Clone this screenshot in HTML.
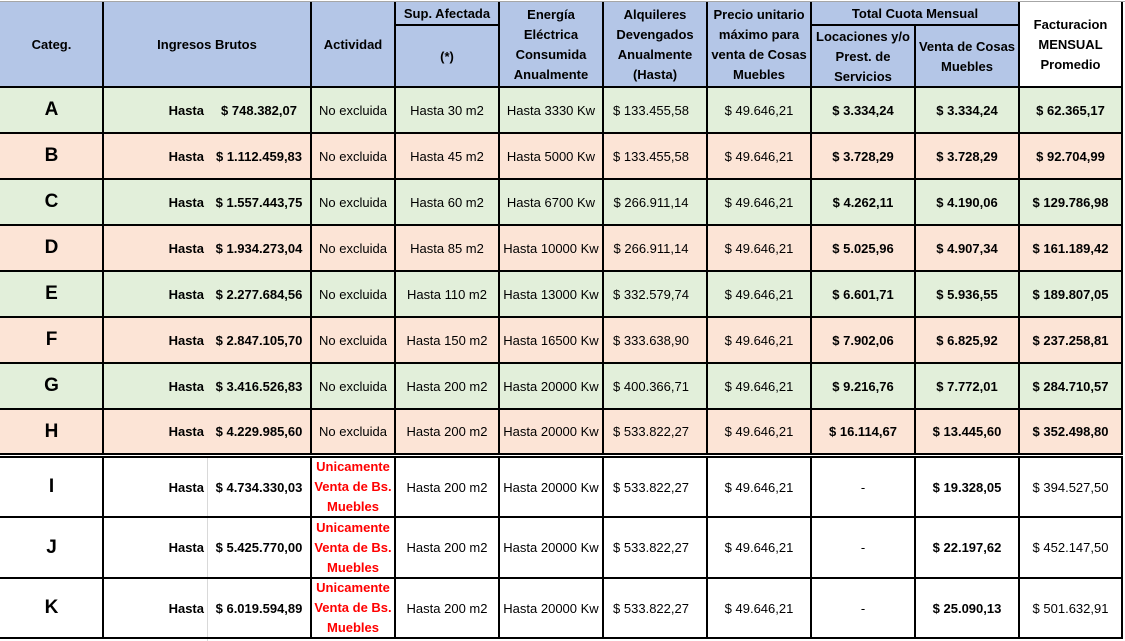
<!DOCTYPE html>
<html><head><meta charset="utf-8"><style>
*{margin:0;padding:0;box-sizing:border-box}
body{width:1125px;height:641px;background:#fff;overflow:hidden;font-family:"Liberation Sans",Arial,sans-serif;color:#000}
#w{position:relative;width:1125px;height:641px}
.f{position:absolute}
.c{position:absolute;display:flex;align-items:center;justify-content:center;text-align:center;white-space:nowrap}
.h{font-weight:bold;font-size:13px;line-height:20px}
.b{font-weight:bold;font-size:13px}
.r{font-size:13px}
.k{font-weight:bold;font-size:19px}
.e{justify-content:flex-end}
.red{color:#ff0000;font-weight:bold;font-size:13px;line-height:20px}
.v{position:absolute;background:#000;width:2px}
.hl{position:absolute;background:#000;height:2px}
.bl{background:#b4c6e7}.gr{background:#e2efda}.pe{background:#fce4d6}
</style></head><body><div id="w">
<!-- fills -->
<div class="f bl" style="left:0;top:2px;width:1019px;height:85px"></div>
<div class="f gr" style="left:0;top:87px;width:1122px;height:46px"></div>
<div class="f pe" style="left:0;top:133px;width:1122px;height:46px"></div>
<div class="f gr" style="left:0;top:179px;width:1122px;height:46px"></div>
<div class="f pe" style="left:0;top:225px;width:1122px;height:46px"></div>
<div class="f gr" style="left:0;top:271px;width:1122px;height:46px"></div>
<div class="f pe" style="left:0;top:317px;width:1122px;height:46px"></div>
<div class="f gr" style="left:0;top:363px;width:1122px;height:46px"></div>
<div class="f pe" style="left:0;top:409px;width:1122px;height:45px"></div>
<div class="f" style="left:0;top:1px;width:1125px;height:1px;background:#a6a6a6"></div>
<div class="f" style="left:207px;top:458px;width:1px;height:183px;background:#d9d9d9"></div>

<!-- header text -->
<div class="c h" style="left:0;top:2px;width:103px;height:85px">Categ.</div>
<div class="c h" style="left:103px;top:2px;width:208px;height:85px">Ingresos Brutos</div>
<div class="c h" style="left:311px;top:2px;width:84px;height:85px">Actividad</div>
<div class="c h" style="left:395px;top:2px;width:104px;height:23px">Sup. Afectada</div>
<div class="c h" style="left:395px;top:26px;width:104px;height:61px">(*)</div>
<div class="c h" style="left:499px;top:2px;width:104px;height:85px">Energía<br>Eléctrica<br>Consumida<br>Anualmente</div>
<div class="c h" style="left:603px;top:2px;width:104px;height:85px">Alquileres<br>Devengados<br>Anualmente<br>(Hasta)</div>
<div class="c h" style="left:707px;top:2px;width:104px;height:85px">Precio unitario<br>máximo para<br>venta de Cosas<br>Muebles</div>
<div class="c h" style="left:811px;top:2px;width:208px;height:23px">Total Cuota Mensual</div>
<div class="c h" style="left:811px;top:26px;width:104px;height:61px">Locaciones y/o<br>Prest. de<br>Servicios</div>
<div class="c h" style="left:915px;top:26px;width:104px;height:61px">Venta de Cosas<br>Muebles</div>
<div class="c h" style="left:1019px;top:2px;width:103px;height:85px">Facturacion<br>MENSUAL<br>Promedio</div>

<!-- Row A -->
<div class="c k" style="left:0;top:87px;width:103px;height:46px">A</div>
<div class="c b e" style="left:103px;top:87px;width:101px;height:46px">Hasta</div>
<div class="c b" style="left:207px;top:87px;width:104px;height:46px">$ 748.382,07</div>
<div class="c r" style="left:311px;top:87px;width:84px;height:46px">No excluida</div>
<div class="c r" style="left:395px;top:87px;width:104px;height:46px">Hasta 30 m2</div>
<div class="c r" style="left:499px;top:87px;width:104px;height:46px">Hasta 3330 Kw</div>
<div class="c r" style="left:603px;top:87px;width:96px;height:46px">$ 133.455,58</div>
<div class="c r" style="left:707px;top:87px;width:104px;height:46px">$ 49.646,21</div>
<div class="c b" style="left:811px;top:87px;width:104px;height:46px">$ 3.334,24</div>
<div class="c b" style="left:915px;top:87px;width:104px;height:46px">$ 3.334,24</div>
<div class="c b" style="left:1019px;top:87px;width:103px;height:46px">$ 62.365,17</div>

<!-- Row B -->
<div class="c k" style="left:0;top:133px;width:103px;height:46px">B</div>
<div class="c b e" style="left:103px;top:133px;width:101px;height:46px">Hasta</div>
<div class="c b" style="left:207px;top:133px;width:104px;height:46px">$ 1.112.459,83</div>
<div class="c r" style="left:311px;top:133px;width:84px;height:46px">No excluida</div>
<div class="c r" style="left:395px;top:133px;width:104px;height:46px">Hasta 45 m2</div>
<div class="c r" style="left:499px;top:133px;width:104px;height:46px">Hasta 5000 Kw</div>
<div class="c r" style="left:603px;top:133px;width:96px;height:46px">$ 133.455,58</div>
<div class="c r" style="left:707px;top:133px;width:104px;height:46px">$ 49.646,21</div>
<div class="c b" style="left:811px;top:133px;width:104px;height:46px">$ 3.728,29</div>
<div class="c b" style="left:915px;top:133px;width:104px;height:46px">$ 3.728,29</div>
<div class="c b" style="left:1019px;top:133px;width:103px;height:46px">$ 92.704,99</div>

<!-- Row C -->
<div class="c k" style="left:0;top:179px;width:103px;height:46px">C</div>
<div class="c b e" style="left:103px;top:179px;width:101px;height:46px">Hasta</div>
<div class="c b" style="left:207px;top:179px;width:104px;height:46px">$ 1.557.443,75</div>
<div class="c r" style="left:311px;top:179px;width:84px;height:46px">No excluida</div>
<div class="c r" style="left:395px;top:179px;width:104px;height:46px">Hasta 60 m2</div>
<div class="c r" style="left:499px;top:179px;width:104px;height:46px">Hasta 6700 Kw</div>
<div class="c r" style="left:603px;top:179px;width:96px;height:46px">$ 266.911,14</div>
<div class="c r" style="left:707px;top:179px;width:104px;height:46px">$ 49.646,21</div>
<div class="c b" style="left:811px;top:179px;width:104px;height:46px">$ 4.262,11</div>
<div class="c b" style="left:915px;top:179px;width:104px;height:46px">$ 4.190,06</div>
<div class="c b" style="left:1019px;top:179px;width:103px;height:46px">$ 129.786,98</div>

<!-- Row D -->
<div class="c k" style="left:0;top:225px;width:103px;height:46px">D</div>
<div class="c b e" style="left:103px;top:225px;width:101px;height:46px">Hasta</div>
<div class="c b" style="left:207px;top:225px;width:104px;height:46px">$ 1.934.273,04</div>
<div class="c r" style="left:311px;top:225px;width:84px;height:46px">No excluida</div>
<div class="c r" style="left:395px;top:225px;width:104px;height:46px">Hasta 85 m2</div>
<div class="c r" style="left:499px;top:225px;width:104px;height:46px">Hasta 10000 Kw</div>
<div class="c r" style="left:603px;top:225px;width:96px;height:46px">$ 266.911,14</div>
<div class="c r" style="left:707px;top:225px;width:104px;height:46px">$ 49.646,21</div>
<div class="c b" style="left:811px;top:225px;width:104px;height:46px">$ 5.025,96</div>
<div class="c b" style="left:915px;top:225px;width:104px;height:46px">$ 4.907,34</div>
<div class="c b" style="left:1019px;top:225px;width:103px;height:46px">$ 161.189,42</div>

<!-- Row E -->
<div class="c k" style="left:0;top:271px;width:103px;height:46px">E</div>
<div class="c b e" style="left:103px;top:271px;width:101px;height:46px">Hasta</div>
<div class="c b" style="left:207px;top:271px;width:104px;height:46px">$ 2.277.684,56</div>
<div class="c r" style="left:311px;top:271px;width:84px;height:46px">No excluida</div>
<div class="c r" style="left:395px;top:271px;width:104px;height:46px">Hasta 110 m2</div>
<div class="c r" style="left:499px;top:271px;width:104px;height:46px">Hasta 13000 Kw</div>
<div class="c r" style="left:603px;top:271px;width:96px;height:46px">$ 332.579,74</div>
<div class="c r" style="left:707px;top:271px;width:104px;height:46px">$ 49.646,21</div>
<div class="c b" style="left:811px;top:271px;width:104px;height:46px">$ 6.601,71</div>
<div class="c b" style="left:915px;top:271px;width:104px;height:46px">$ 5.936,55</div>
<div class="c b" style="left:1019px;top:271px;width:103px;height:46px">$ 189.807,05</div>

<!-- Row F -->
<div class="c k" style="left:0;top:317px;width:103px;height:46px">F</div>
<div class="c b e" style="left:103px;top:317px;width:101px;height:46px">Hasta</div>
<div class="c b" style="left:207px;top:317px;width:104px;height:46px">$ 2.847.105,70</div>
<div class="c r" style="left:311px;top:317px;width:84px;height:46px">No excluida</div>
<div class="c r" style="left:395px;top:317px;width:104px;height:46px">Hasta 150 m2</div>
<div class="c r" style="left:499px;top:317px;width:104px;height:46px">Hasta 16500 Kw</div>
<div class="c r" style="left:603px;top:317px;width:96px;height:46px">$ 333.638,90</div>
<div class="c r" style="left:707px;top:317px;width:104px;height:46px">$ 49.646,21</div>
<div class="c b" style="left:811px;top:317px;width:104px;height:46px">$ 7.902,06</div>
<div class="c b" style="left:915px;top:317px;width:104px;height:46px">$ 6.825,92</div>
<div class="c b" style="left:1019px;top:317px;width:103px;height:46px">$ 237.258,81</div>

<!-- Row G -->
<div class="c k" style="left:0;top:363px;width:103px;height:46px">G</div>
<div class="c b e" style="left:103px;top:363px;width:101px;height:46px">Hasta</div>
<div class="c b" style="left:207px;top:363px;width:104px;height:46px">$ 3.416.526,83</div>
<div class="c r" style="left:311px;top:363px;width:84px;height:46px">No excluida</div>
<div class="c r" style="left:395px;top:363px;width:104px;height:46px">Hasta 200 m2</div>
<div class="c r" style="left:499px;top:363px;width:104px;height:46px">Hasta 20000 Kw</div>
<div class="c r" style="left:603px;top:363px;width:96px;height:46px">$ 400.366,71</div>
<div class="c r" style="left:707px;top:363px;width:104px;height:46px">$ 49.646,21</div>
<div class="c b" style="left:811px;top:363px;width:104px;height:46px">$ 9.216,76</div>
<div class="c b" style="left:915px;top:363px;width:104px;height:46px">$ 7.772,01</div>
<div class="c b" style="left:1019px;top:363px;width:103px;height:46px">$ 284.710,57</div>

<!-- Row H -->
<div class="c k" style="left:0;top:409px;width:103px;height:45px">H</div>
<div class="c b e" style="left:103px;top:409px;width:101px;height:45px">Hasta</div>
<div class="c b" style="left:207px;top:409px;width:104px;height:45px">$ 4.229.985,60</div>
<div class="c r" style="left:311px;top:409px;width:84px;height:45px">No excluida</div>
<div class="c r" style="left:395px;top:409px;width:104px;height:45px">Hasta 200 m2</div>
<div class="c r" style="left:499px;top:409px;width:104px;height:45px">Hasta 20000 Kw</div>
<div class="c r" style="left:603px;top:409px;width:96px;height:45px">$ 533.822,27</div>
<div class="c r" style="left:707px;top:409px;width:104px;height:45px">$ 49.646,21</div>
<div class="c b" style="left:811px;top:409px;width:104px;height:45px">$ 16.114,67</div>
<div class="c b" style="left:915px;top:409px;width:104px;height:45px">$ 13.445,60</div>
<div class="c b" style="left:1019px;top:409px;width:103px;height:45px">$ 352.498,80</div>

<!-- Row I -->
<div class="c k" style="left:0;top:457px;width:103px;height:60px">I</div>
<div class="c b e" style="left:103px;top:457px;width:101px;height:60px">Hasta</div>
<div class="c b" style="left:207px;top:457px;width:104px;height:60px">$ 4.734.330,03</div>
<div class="c red" style="left:311px;top:457px;width:84px;height:60px">Unicamente<br>Venta de Bs.<br>Muebles</div>
<div class="c r" style="left:395px;top:457px;width:104px;height:60px">Hasta 200 m2</div>
<div class="c r" style="left:499px;top:457px;width:104px;height:60px">Hasta 20000 Kw</div>
<div class="c r" style="left:603px;top:457px;width:96px;height:60px">$ 533.822,27</div>
<div class="c r" style="left:707px;top:457px;width:104px;height:60px">$ 49.646,21</div>
<div class="c r" style="left:811px;top:457px;width:104px;height:60px">-</div>
<div class="c b" style="left:915px;top:457px;width:104px;height:60px">$ 19.328,05</div>
<div class="c r" style="left:1019px;top:457px;width:103px;height:60px">$ 394.527,50</div>

<!-- Row J -->
<div class="c k" style="left:0;top:517px;width:103px;height:61px">J</div>
<div class="c b e" style="left:103px;top:517px;width:101px;height:61px">Hasta</div>
<div class="c b" style="left:207px;top:517px;width:104px;height:61px">$ 5.425.770,00</div>
<div class="c red" style="left:311px;top:517px;width:84px;height:61px">Unicamente<br>Venta de Bs.<br>Muebles</div>
<div class="c r" style="left:395px;top:517px;width:104px;height:61px">Hasta 200 m2</div>
<div class="c r" style="left:499px;top:517px;width:104px;height:61px">Hasta 20000 Kw</div>
<div class="c r" style="left:603px;top:517px;width:96px;height:61px">$ 533.822,27</div>
<div class="c r" style="left:707px;top:517px;width:104px;height:61px">$ 49.646,21</div>
<div class="c r" style="left:811px;top:517px;width:104px;height:61px">-</div>
<div class="c b" style="left:915px;top:517px;width:104px;height:61px">$ 22.197,62</div>
<div class="c r" style="left:1019px;top:517px;width:103px;height:61px">$ 452.147,50</div>

<!-- Row K -->
<div class="c k" style="left:0;top:578px;width:103px;height:60px">K</div>
<div class="c b e" style="left:103px;top:578px;width:101px;height:60px">Hasta</div>
<div class="c b" style="left:207px;top:578px;width:104px;height:60px">$ 6.019.594,89</div>
<div class="c red" style="left:311px;top:578px;width:84px;height:60px">Unicamente<br>Venta de Bs.<br>Muebles</div>
<div class="c r" style="left:395px;top:578px;width:104px;height:60px">Hasta 200 m2</div>
<div class="c r" style="left:499px;top:578px;width:104px;height:60px">Hasta 20000 Kw</div>
<div class="c r" style="left:603px;top:578px;width:96px;height:60px">$ 533.822,27</div>
<div class="c r" style="left:707px;top:578px;width:104px;height:60px">$ 49.646,21</div>
<div class="c r" style="left:811px;top:578px;width:104px;height:60px">-</div>
<div class="c b" style="left:915px;top:578px;width:104px;height:60px">$ 25.090,13</div>
<div class="c r" style="left:1019px;top:578px;width:103px;height:60px">$ 501.632,91</div>

<!-- vertical lines -->
<div class="v" style="left:102px;top:2px;height:637px"></div>
<div class="v" style="left:310px;top:2px;height:637px"></div>
<div class="v" style="left:394px;top:2px;height:637px"></div>
<div class="v" style="left:498px;top:2px;height:637px"></div>
<div class="v" style="left:602px;top:2px;height:637px"></div>
<div class="v" style="left:706px;top:2px;height:637px"></div>
<div class="v" style="left:810px;top:2px;height:637px"></div>
<div class="v" style="left:914px;top:25px;height:614px"></div>
<div class="v" style="left:1018px;top:2px;height:637px"></div>
<div class="v" style="left:1121px;top:2px;height:637px"></div>

<!-- header sub lines -->
<div class="hl" style="left:395px;top:24px;width:104px"></div>
<div class="hl" style="left:811px;top:24px;width:208px"></div>

<!-- horizontal lines -->
<div class="hl" style="left:0;top:86px;width:1123px"></div>
<div class="hl" style="left:0;top:132px;width:1123px"></div>
<div class="hl" style="left:0;top:178px;width:1123px"></div>
<div class="hl" style="left:0;top:224px;width:1123px"></div>
<div class="hl" style="left:0;top:270px;width:1123px"></div>
<div class="hl" style="left:0;top:316px;width:1123px"></div>
<div class="hl" style="left:0;top:362px;width:1123px"></div>
<div class="hl" style="left:0;top:408px;width:1123px"></div>
<div class="hl" style="left:0;top:453px;width:1123px"></div>
<div class="f" style="left:0;top:455px;width:1123px;height:1px;background:#fff"></div>
<div class="hl" style="left:0;top:456px;width:1123px"></div>
<div class="hl" style="left:0;top:516px;width:1123px"></div>
<div class="hl" style="left:0;top:577px;width:1123px"></div>
<div class="hl" style="left:0;top:637px;width:1123px"></div>
</div></body></html>
